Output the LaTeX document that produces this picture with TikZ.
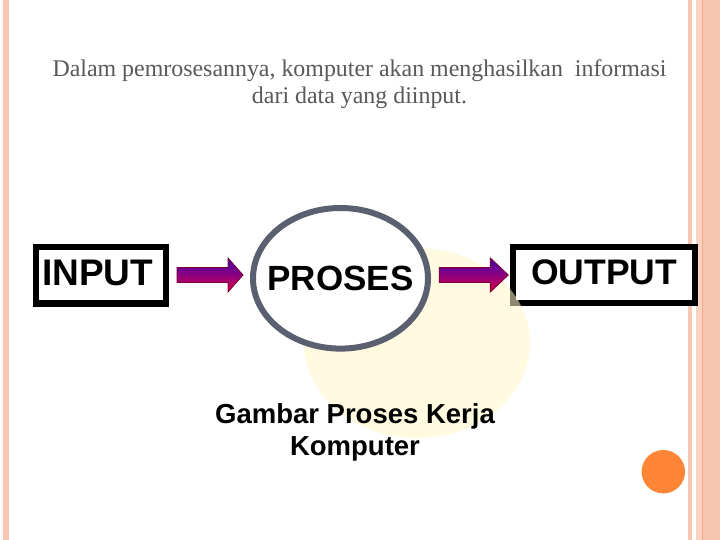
\documentclass[tikz,border=0pt]{standalone}
\usepackage{fontspec}
\setmainfont{Liberation Serif}
\setsansfont{Liberation Sans}
\usetikzlibrary{calc,shapes.geometric}
\definecolor{peach}{HTML}{F9C6B2}
\definecolor{peachlt}{HTML}{FBD3C3}
\definecolor{peachdk}{HTML}{F2A88A}
\definecolor{dotorange}{HTML}{FD8535}
\definecolor{ringgray}{HTML}{5A6070}
\definecolor{toptext}{HTML}{595959}
\definecolor{ablue}{HTML}{4200B0}
\definecolor{ared}{HTML}{D8004A}
\definecolor{aline}{HTML}{7A0030}
\definecolor{yin}{HTML}{FFF6C8}
\definecolor{yout}{HTML}{FFE14A}
\pgfdeclareradialshading{yblob}{\pgfpoint{0bp}{0bp}}{color(0bp)=(yin); color(28bp)=(yin); color(50bp)=(yout)}
\newcommand\blockarrow[3]{%
  \shadedraw[arrowfill] ($(#1)+(0,-7.5)$) -- ($(#2)+(-#3,-7.5)$) -- ($(#2)+(-#3,-17)$) -- (#2)
    -- ($(#2)+(-#3,17)$) -- ($(#2)+(-#3,7.5)$) -- ($(#1)+(0,7.5)$) -- cycle;}
\begin{document}
\begin{tikzpicture}[x=1pt,y=-1pt,
  blackbox/.style={draw=black, line width=6.3pt, rectangle, inner sep=0pt, fill=white,
     font=\fontsize{37}{40}\selectfont\sffamily\bfseries},
  procring/.style={draw=ringgray, line width=6pt, ellipse, inner sep=0pt, fill=white,
     font=\fontsize{35}{38}\selectfont\sffamily\bfseries},
  arrowfill/.style={draw=aline, line width=0.8pt, top color=ablue, bottom color=ared},
  captext/.style={font=\fontsize{27.5}{30}\selectfont\sffamily\bfseries, inner sep=0pt, anchor=base},
  headtext/.style={font=\fontsize{23.9}{27}\selectfont, text=toptext, inner sep=0pt, anchor=base}
]
\useasboundingbox (0,0) rectangle (720,540);
\fill[white] (0,0) rectangle (720,540);
% side stripes
\fill[peach] (3,0) rectangle (9,540);
\fill[peach] (688,0) rectangle (692,540);
\fill[peachlt] (696,0) rectangle (702,540);
\fill[peachdk] (702,0) rectangle (703,540);
\fill[peach] (703,0) rectangle (720,540);
% orange dot
\fill[dotorange] (663.3,471.7) circle (21.7);
% heading
\node[headtext] (head1) at (359.5,77) {Dalam pemrosesannya, komputer akan menghasilkan\ \ informasi};
\node[headtext] (head2) at (359.5,104) {dari data yang diinput.};
% boxes
\node[blackbox, minimum width=130.4pt, minimum height=56.5pt, text depth=6pt] (inp) at (101,275.35) {INPUT\kern7pt};
\node[blackbox, minimum width=182pt, minimum height=55.7pt, text depth=5pt,
      font=\fontsize{35.5}{38}\selectfont\sffamily\bfseries] (out) at (604.2,275) {OUTPUT};
% yellow blob
\shade[shading=yblob, fill opacity=0.55] (417,343) ellipse [x radius=113, y radius=95];
% process ring
\node[procring, minimum width=175pt, minimum height=140.6pt] (proc) at (340.5,278.3) {\makebox[0pt]{PROSES}};
% arrows
\coordinate (a1s) at ($(inp.east)+(7.7,-0.35)$);
\coordinate (a1e) at ($(proc.west)+(-7,-3.3)$);
\coordinate (a2s) at ($(proc.east)+(8.3,-3.3)$);
\coordinate (a2e) at ($(out.west)+(-1.7,0)$);
\blockarrow{a1s}{a1e}{15}
\blockarrow{a2s}{a2e}{18}
% caption
\node[captext] (cap1) at (355,423.3) {Gambar Proses Kerja};
\node[captext] (cap2) at (355,455) {Komputer};
\end{tikzpicture}
\end{document}
